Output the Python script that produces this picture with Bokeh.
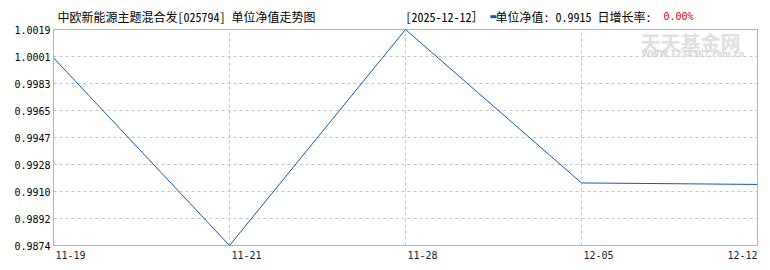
from bokeh.plotting import figure
from bokeh.models import Range1d, FixedTicker, Label
from bokeh.embed import file_html
from bokeh.resources import INLINE

# ---- data ----
dates = ["11-19", "11-21", "11-28", "12-05", "12-12"]
nav = [1.0000, 0.9874, 1.0019, 0.9916, 0.9915]
ytick_labels = ["0.9874", "0.9892", "0.9910", "0.9928", "0.9947",
                "0.9965", "0.9983", "1.0001", "1.0019"]
title_text = "中欧新能源主题混合发[025794] 单位净值走势图"
date_text = "[2025-12-12］"
legend_name = "单位净值:"
legend_value = "0.9915"
growth_name = "日增长率:"
growth_value = "0.00%"

MONO = "Noto Sans Mono CJK SC, DejaVu Sans Mono, Noto Sans CJK SC"
LINE = "#0d5ba8"
NB = "\u00a0"

ymin, ymax = min(nav), max(nav)
idx = list(range(len(dates)))
step = (ymax - ymin) / (len(ytick_labels) - 1)
yticks = [ymin + i * step for i in range(len(ytick_labels))]

p = figure(width=770, height=270, output_backend="svg", toolbar_location=None,
           x_range=Range1d(0, len(dates) - 1), y_range=Range1d(ymin, ymax),
           min_border_left=53, min_border_right=13, min_border_top=29,
           min_border_bottom=25, background_fill_color="white",
           border_fill_color="white")

p.outline_line_color = "#b4b4b4"
p.outline_line_width = 1

# y axis
p.yaxis.ticker = FixedTicker(ticks=yticks)
p.yaxis.major_label_overrides = {t: l for t, l in zip(yticks, ytick_labels)}
p.yaxis.major_tick_in = 0
p.yaxis.major_tick_out = 0
p.yaxis.minor_tick_in = 0
p.yaxis.minor_tick_out = 0
p.yaxis.axis_line_color = "#b4b4b4"
p.yaxis.major_label_standoff = 3
p.yaxis.major_label_text_font = "DejaVu Sans Mono"
p.yaxis.major_label_text_font_size = "10px"
p.yaxis.major_label_text_color = "#000000"

# x axis: labels sit just right of each date's position (left-aligned look),
# last one ends at the frame edge
px_per_unit = 704 / (len(dates) - 1)
xshift = [17 / px_per_unit] * (len(dates) - 1) + [-15 / px_per_unit]
xlab_pos = [i + s for i, s in zip(idx, xshift)]
p.xaxis.ticker = FixedTicker(ticks=xlab_pos)
p.xaxis.major_label_overrides = {t: d for t, d in zip(xlab_pos, dates)}
p.xaxis.major_tick_in = 0
p.xaxis.major_tick_out = 0
p.xaxis.minor_tick_in = 0
p.xaxis.minor_tick_out = 0
p.xaxis.axis_line_color = "#b4b4b4"
p.xaxis.major_label_standoff = 5
p.xaxis.major_label_text_font = "DejaVu Sans Mono"
p.xaxis.major_label_text_font_size = "10px"
p.xaxis.major_label_text_color = "#222222"

p.xgrid.ticker = FixedTicker(ticks=idx[1:-1])
p.ygrid.ticker = FixedTicker(ticks=yticks[1:-1])
for g in (p.xgrid, p.ygrid):
    g.grid_line_color = "#c4c4c4"
    g.grid_line_dash = "3 3"
    g.grid_line_width = 1

p.line(idx, nav, line_color=LINE, line_width=1)

# header (black parts in one label, coloured parts separate)
header = (title_text + NB * 15 + date_text + NB * 2 + legend_name + NB
          + legend_value + NB + growth_name)
p.add_layout(Label(x=57, y=16, x_units="canvas", y_units="canvas",
                   text=header, text_color="#000000", text_font=MONO,
                   text_font_size="12px", text_baseline="middle",
                   text_align="left"), "above")
p.add_layout(Label(x=663, y=16, x_units="canvas", y_units="canvas",
                   text=growth_value, text_color="#e00000",
                   text_font="DejaVu Sans Mono",
                   text_font_size="10px", text_baseline="middle",
                   text_align="left"), "above")
p.add_layout(Label(x=489, y=16, x_units="canvas", y_units="canvas",
                   text="▬", text_color=LINE, text_font="DejaVu Sans",
                   text_font_size="8px", text_baseline="middle",
                   text_align="left"), "left")

# watermark
for t, sx, sy, c, s, f in [("天天基金网", 640, 42, "#e0e0e0", "20px", "Noto Sans CJK SC"),
                           ("WWW.1234567.com.cn", 641, 54, "#d8d8d8", "8px", "DejaVu Sans")]:
    p.add_layout(Label(x=sx, y=sy, x_units="canvas", y_units="canvas",
                       text=t, text_color=c, text_font=f, text_font_size=s,
                       text_font_style="bold", text_baseline="middle",
                       text_align="left"))

open("out.html", "w").write(file_html(p, INLINE))
